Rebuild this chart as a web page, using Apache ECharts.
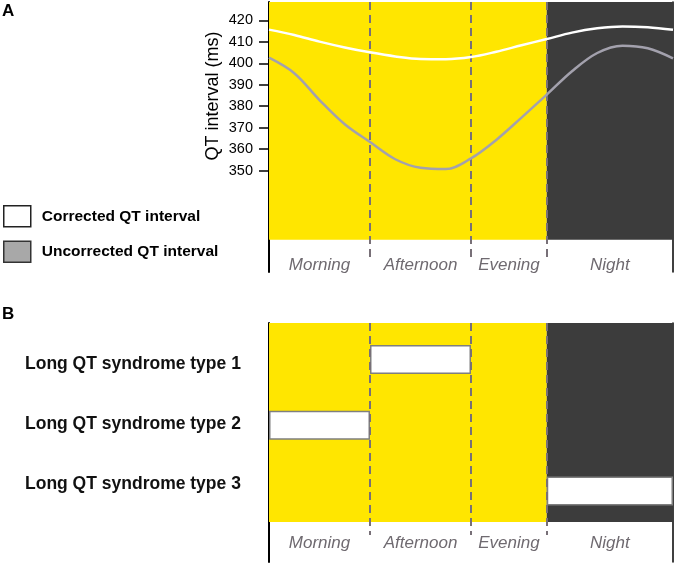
<!DOCTYPE html>
<html>
<head>
<meta charset="utf-8">
<script src="https://cdn.jsdelivr.net/npm/echarts@6/dist/echarts.min.js"></script>
<style>
html,body{margin:0;padding:0;background:#fff;}
#chart{width:678px;height:565px;}
</style>
</head>
<body>
<div id="chart"></div>
<script>
// ---- data ----
const periods = ['Morning', 'Afternoon', 'Evening', 'Night'];
const periodBounds = [6, 12, 18, 22.5, 30];          // clock hours (Night wraps to 6 am)
const hours = [6, 7.5, 9, 10.5, 12, 13.5, 15, 16.5, 18, 19.5, 21, 22.5, 24, 25.5, 27, 28.5, 30];
const correctedQT   = [415.7, 413.2, 410.1, 407.4, 405.1, 403.2, 402.0, 401.9, 402.9, 405.4, 408.4, 411.3, 414.3, 416.3, 417.2, 416.8, 415.6];
const uncorrectedQT = [402.6, 395.4, 382.9, 371.6, 363.3, 355.3, 351.3, 350.7, 355.7, 364.3, 374.7, 385.4, 396.3, 404.8, 408.2, 407.0, 402.3];
const yTicks = [350, 360, 370, 380, 390, 400, 410, 420];
const seriesNames = ['Corrected QT interval', 'Uncorrected QT interval'];
const syndromes = ['Long QT syndrome type 1', 'Long QT syndrome type 2', 'Long QT syndrome type 3'];
const syndromeStart = [12, 6, 22.5];
const syndromeEnd   = [18, 12, 30];

// ---- derived ----
const FONT = "'Liberation Sans', Arial, Helvetica, sans-serif";
const YELLOW = '#ffe600', DARK = '#3c3c3c', DASH = '#787078';
const periodMid = periods.map((p, i) => (periodBounds[i] + periodBounds[i + 1]) / 2);
const xMin = periodBounds[0], xMax = periodBounds[periodBounds.length - 1];
const nightStart = periodBounds[3];
const dividers = periodBounds.slice(1, 4);
const yAMin = 302.77, yAMax = 428.56, yAYellowBottom = 317.74, yADashBottom = 307.4;
const zip = (a, b) => a.map((v, i) => [v, b[i]]);

const periodLabel = (margin) => ({
  customValues: periodMid,
  formatter: v => periods[periodMid.indexOf(v)] || '',
  fontFamily: FONT, fontSize: 17, fontStyle: 'italic', color: '#6f6a70',
  margin: margin, verticalAlign: 'top'
});

const gridL = 269, gridW = 404;

const option = {
  animation: false,
  title: [
    {text: 'A', left: 2, top: 3, padding: 0, textStyle: {fontFamily: FONT, fontSize: 17, fontWeight: 'bold', color: '#000'}},
    {text: 'B', left: 2, top: 306, padding: 0, textStyle: {fontFamily: FONT, fontSize: 17, fontWeight: 'bold', color: '#000'}}
  ],
  legend: {
    orient: 'vertical', left: 3, top: 205, padding: 0,
    itemWidth: 27, itemHeight: 21, itemGap: 13, selectedMode: false,
    textStyle: {fontFamily: FONT, fontSize: 15.5, fontWeight: 'bold', color: '#000', padding: [0, 0, 0, 6]},
    data: [
      {name: seriesNames[0], icon: 'rect', itemStyle: {color: '#ffffff', borderColor: '#222', borderWidth: 1.5}},
      {name: seriesNames[1], icon: 'rect', itemStyle: {color: '#a8a8a8', borderColor: '#333', borderWidth: 1.5}}
    ]
  },
  graphic: [{
    type: 'text', x: 213, y: 96, rotation: Math.PI / 2,
    style: {text: 'QT interval (ms)', font: '18px ' + FONT, fill: '#000', align: 'center', verticalAlign: 'middle'}
  }],
  grid: [
    {left: gridL, width: gridW, top: 2, height: 270},        // A
    {left: gridL, width: gridW, top: 323, height: 239},      // B background
    {left: gridL, width: gridW, top: 326.6, height: 197.3},  // B bars
    {left: gridL, width: gridW, top: 334, height: 180}       // B row labels
  ],
  xAxis: [
    {gridIndex: 0, type: 'value', min: xMin, max: xMax, offset: -19,
     axisLine: {show: false}, axisTick: {show: false}, splitLine: {show: false}, axisLabel: periodLabel(4)},
    {gridIndex: 1, type: 'value', min: xMin, max: xMax, offset: -31,
     axisLine: {show: false}, axisTick: {show: false}, splitLine: {show: false}, axisLabel: periodLabel(4)},
    {gridIndex: 2, type: 'value', min: xMin, max: xMax, show: false},
    {gridIndex: 3, type: 'value', min: xMin, max: xMax, show: false}
  ],
  yAxis: [
    {gridIndex: 0, type: 'value', min: yAMin, max: yAMax,
     axisLine: {show: true, lineStyle: {color: '#000', width: 2}},
     axisTick: {show: true, length: 10, customValues: yTicks, lineStyle: {color: '#000', width: 1.5}},
     axisLabel: {customValues: yTicks, margin: 16, fontFamily: FONT, fontSize: 14.5, color: '#000'},
     splitLine: {show: false}},
    {gridIndex: 0, type: 'value', min: yAMin, max: yAMax, position: 'right',
     axisLine: {show: true, lineStyle: {color: '#000', width: 1.5}},
     axisTick: {show: false}, axisLabel: {show: false}, splitLine: {show: false}},
    {gridIndex: 1, type: 'value', min: 0, max: 1,
     axisLine: {show: true, lineStyle: {color: '#000', width: 2}},
     axisTick: {show: false}, axisLabel: {show: false}, splitLine: {show: false}},
    {gridIndex: 1, type: 'value', min: 0, max: 1, position: 'right',
     axisLine: {show: true, lineStyle: {color: '#000', width: 1.5}},
     axisTick: {show: false}, axisLabel: {show: false}, splitLine: {show: false}},
    {gridIndex: 2, type: 'category', data: syndromes, inverse: true, show: false},
    {gridIndex: 3, type: 'category', data: syndromes, inverse: true,
     axisLine: {show: false}, axisTick: {show: false},
     axisLabel: {align: 'left', margin: 244, fontFamily: FONT, fontSize: 17.5, fontWeight: 'bold', color: '#111'}}
  ],
  series: [
    // Panel A background bands
    {type: 'line', xAxisIndex: 0, yAxisIndex: 0, data: [], z: 1, silent: true,
     markArea: {silent: true, label: {show: false}, data: [
       [{xAxis: xMin, yAxis: yAYellowBottom, itemStyle: {color: YELLOW, opacity: 1}}, {xAxis: nightStart, yAxis: yAMax}],
       [{xAxis: nightStart, yAxis: yAYellowBottom, itemStyle: {color: DARK, opacity: 1}}, {xAxis: xMax, yAxis: yAMax}]
     ]}},
    // Panel A curves
    {name: seriesNames[0], type: 'line', xAxisIndex: 0, yAxisIndex: 0, z: 5,
     data: zip(hours, correctedQT), smooth: 0.35, symbol: 'none', silent: true,
     lineStyle: {color: '#ffffff', width: 2.5}, itemStyle: {color: '#ffffff'}},
    {name: seriesNames[1], type: 'line', xAxisIndex: 0, yAxisIndex: 0, z: 5,
     data: zip(hours, uncorrectedQT), smooth: 0.35, symbol: 'none', silent: true,
     lineStyle: {color: '#a3a1ad', width: 2.5}, itemStyle: {color: '#a8a8a8'}},
    // Panel A dividers
    {type: 'line', xAxisIndex: 0, yAxisIndex: 0, data: [], z: 8, silent: true,
     markLine: {silent: true, symbol: 'none', label: {show: false},
       lineStyle: {color: DASH, width: 2, type: [8, 5]},
       data: dividers.map(x => [{coord: [x, yAMax]}, {coord: [x, yADashBottom]}])}},
    // Panel B background + dividers
    {type: 'line', xAxisIndex: 1, yAxisIndex: 2, data: [], z: 1, silent: true,
     markArea: {silent: true, label: {show: false}, data: [
       [{xAxis: xMin, yAxis: 0.1674, itemStyle: {color: YELLOW, opacity: 1}}, {xAxis: nightStart, yAxis: 1}],
       [{xAxis: nightStart, yAxis: 0.1674, itemStyle: {color: DARK, opacity: 1}}, {xAxis: xMax, yAxis: 1}]
     ]},
     markLine: {silent: true, symbol: 'none', label: {show: false},
       lineStyle: {color: DASH, width: 2, type: [8, 5]},
       data: dividers.map(x => [{coord: [x, 1]}, {coord: [x, 0.113]}])}},
    // Panel B bars (Gantt via stack)
    {type: 'bar', xAxisIndex: 2, yAxisIndex: 4, stack: 'g', barWidth: 29, silent: true, z: 4,
     itemStyle: {color: 'transparent'}, data: syndromeStart},
    {type: 'bar', xAxisIndex: 2, yAxisIndex: 4, stack: 'g', barWidth: 29, silent: true, z: 4,
     itemStyle: {color: '#ffffff', borderColor: '#7f7f7f', borderWidth: 1.5},
     data: syndromeEnd.map((e, i) => e - syndromeStart[i])},
    // Panel B row labels carrier
    {type: 'bar', xAxisIndex: 3, yAxisIndex: 5, data: [], silent: true}
  ]
};

const chart = echarts.init(document.getElementById('chart'), null, {renderer: 'canvas'});
chart.setOption(option);
</script>
</body>
</html>
